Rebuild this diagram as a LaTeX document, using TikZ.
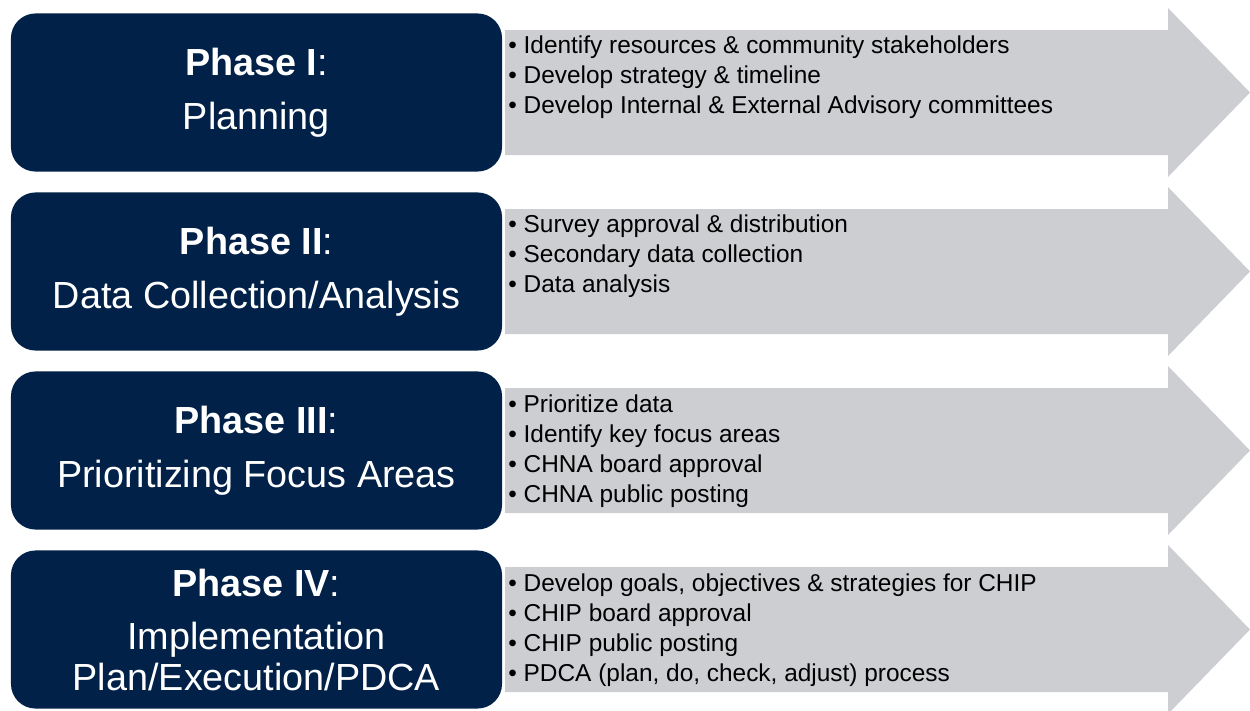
\documentclass[tikz,border=0pt]{standalone}
\usepackage{fontspec}
\setmainfont{Liberation Sans}
\usetikzlibrary{positioning}
\definecolor{navyc}{RGB}{1,33,72}
\definecolor{arrowc}{RGB}{205,206,210}

\begin{document}
\begin{tikzpicture}[
  x=0.02cm, y=-0.02cm,
  phase/.style={fill=navyc, rounded corners=14pt, minimum width=279.5pt, minimum height=90pt,
    text=white, align=center, inner sep=0pt, font=\fontsize{21.5}{23}\selectfont},
  items/.style={anchor=base west, align=left, inner sep=0pt, text=black,
    font=\fontsize{13.9}{17}\selectfont}
]
\useasboundingbox (0,0) rectangle (1250,710);

% Arrows (rows are 179px apart)
\fill[arrowc] (505,30) -- (1168,30) -- (1168,8) -- (1250,92.5) -- (1168,177) -- (1168,155) -- (505,155) -- cycle;
\fill[arrowc] (505,209) -- (1168,209) -- (1168,187) -- (1250,271.5) -- (1168,356) -- (1168,334) -- (505,334) -- cycle;
\fill[arrowc] (505,388) -- (1168,388) -- (1168,366) -- (1250,450.5) -- (1168,535) -- (1168,513) -- (505,513) -- cycle;
\fill[arrowc] (505,567) -- (1168,567) -- (1168,545) -- (1250,629.5) -- (1168,714) -- (1168,692) -- (505,692) -- cycle;

% Phase boxes
\node[phase] (ph1) at (256.5,92.5)  {\textbf{Phase I}:\\[7.5pt] Planning};
\node[phase] (ph2) at (256.5,271.5) {\textbf{Phase II}:\\[7.5pt] Data Collection/Analysis};
\node[phase] (ph3) at (256.5,450.5) {\textbf{Phase III}:\\[7.5pt] Prioritizing Focus Areas};
\node[phase] (ph4) at (256.5,629.5) {\textbf{Phase IV}:\\[7.5pt] Implementation\\ Plan/Execution/PDCA};

% Bullet lists (placed by the baseline of their last line)
\node[items] (list1) at (508,113) {\textbullet\ Identify resources \& community stakeholders\\
  \textbullet\ Develop strategy \& timeline\\
  \textbullet\ Develop Internal \& External Advisory committees};
\node[items] (list2) at (508,292) {\textbullet\ Survey approval \& distribution\\
  \textbullet\ Secondary data collection\\
  \textbullet\ Data analysis};
\node[items] (list3) at (508,502) {\textbullet\ Prioritize data\\
  \textbullet\ Identify key focus areas\\
  \textbullet\ CHNA board approval\\
  \textbullet\ CHNA public posting};
\node[items] (list4) at (508,681) {\textbullet\ Develop goals, objectives \& strategies for CHIP\\
  \textbullet\ CHIP board approval\\
  \textbullet\ CHIP public posting\\
  \textbullet\ PDCA (plan, do, check, adjust) process};
\end{tikzpicture}
\end{document}
